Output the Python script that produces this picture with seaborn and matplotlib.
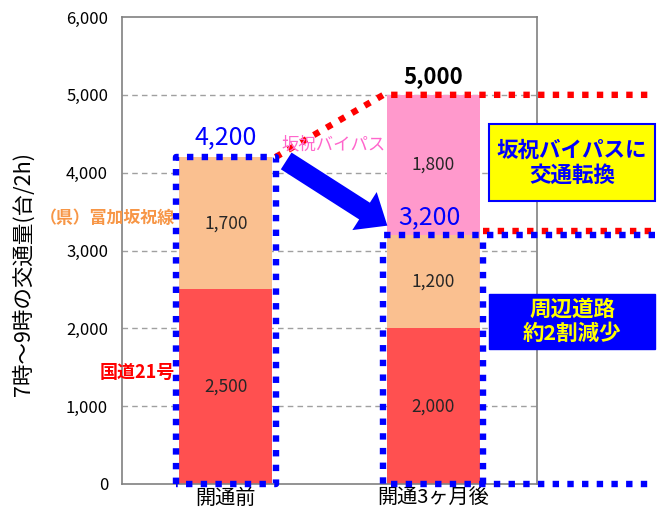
import numpy as np
import pandas as pd
import matplotlib
matplotlib.use("Agg")
import matplotlib.pyplot as plt
from matplotlib.patches import Rectangle
import seaborn as sns

categories = ["開通前", "開通3ヶ月後"]
route21 = [2500, 2000]        # 国道21号
prefroad = [1700, 1200]       # (県)富加坂祝線
bypass = [0, 1800]            # 坂祝バイパス
totals = [4200, 5000]
yticks = [0, 1000, 2000, 3000, 4000, 5000, 6000]

c_red = "#FF5050"
c_peach = "#FAC090"
c_pink = "#FF99CC"
c_blue = "#0000FF"

sns.set_style("white")
plt.rcParams["font.family"] = ["Noto Sans CJK JP", "DejaVu Sans"]

df = pd.DataFrame({"cat": categories, "red": route21, "peach": prefroad, "pink": bypass})
df["lvl1"] = df["red"]
df["lvl2"] = df["red"] + df["peach"]
df["lvl3"] = df["lvl2"] + df["pink"]

fig = plt.figure(figsize=(6.65, 5.27), dpi=100)
ax = fig.add_axes([122 / 665, 1 - 484 / 527, 415 / 665, 467 / 527])

bw = 0.45
for col, c in [("lvl3", c_pink), ("lvl2", c_peach), ("lvl1", c_red)]:
    sns.barplot(data=df, x="cat", y=col, color=c, width=bw, saturation=1, ax=ax,
                linewidth=0, zorder=2)

ax.set_xlim(-0.5, 1.5)
ax.set_ylim(0, 6000)
ax.set_yticks(yticks)
ax.set_yticklabels([f"{v:,}" for v in yticks], fontsize=12, color="black")
ax.set_xlabel("")
ax.set_ylabel("7時～9時の交通量(台/2h)", fontsize=15.5, color="black")
ax.yaxis.set_label_coords(-0.21, 0.45)
ax.tick_params(axis="x", length=0, labelsize=14.5, pad=3, labelcolor="black")
ax.set_xticks([-0.5, 0.5, 1.5], minor=True)
ax.tick_params(axis="x", which="minor", length=6, color="#808080", direction="out")
ax.tick_params(axis="y", length=6, color="#808080", direction="out", pad=4)
for y in yticks[1:-1]:
    ax.axhline(y, color="#A0A0A0", linestyle=(0, (4, 3)), linewidth=1, zorder=1)
for s in ax.spines.values():
    s.set_color("#808080")
    s.set_linewidth(1.2)

# segment value labels
for i in range(len(categories)):
    base = 0
    for col in ["red", "peach", "pink"]:
        v = df[col][i]
        if v > 0:
            ax.text(i, base + v / 2, f"{v:,}", ha="center", va="center", fontsize=12.5, zorder=5)
        base += v

# dotted outlines
dot = dict(linestyle=(0, (1, 1.3)), linewidth=4.6, dash_capstyle="butt", clip_on=False, zorder=6)
pad = 0.015
x_far = 2.07
l0, r0 = 0 - bw / 2 - pad, 0 + bw / 2 + pad
l1, r1 = 1 - bw / 2 - pad, 1 + bw / 2 + pad
t0 = totals[0]
t1 = route21[1] + prefroad[1]
# red: traffic moved to the bypass
ax.plot([r0, l1, x_far], [t0, totals[1], totals[1]], color="#FF0000", **dot)
ax.plot([r1, x_far], [t1 + 50, t1 + 50], color="#FF0000", **dot)
# blue outlines
ax.plot([l0, l0, r0, r0, l0], [0, t0, t0, 0, 0], color=c_blue, **dot)
ax.plot([x_far, l1, l1, x_far], [t1, t1, 0, 0], color=c_blue, **dot)
ax.plot([r1, r1], [0, t1], color=c_blue, **dot)

# totals
ax.text(0, t0 + 90, f"{t0:,}", ha="center", va="bottom", fontsize=18, color=c_blue, zorder=7)
ax.text(1, totals[1] + 90, f"{totals[1]:,}", ha="center", va="bottom", fontsize=16,
        fontweight="bold", color="black", zorder=7)
ax.text(0.98, t1 + 60, f"{t1:,}", ha="center", va="bottom", fontsize=18, color=c_blue, zorder=7)

# arrow
ax.annotate("", xy=(0.79, 3300), xytext=(0.28, 4170),
            arrowprops=dict(arrowstyle="simple,head_length=1.5,head_width=2.5,tail_width=1.1",
                            mutation_scale=13, color=c_blue, lw=0), zorder=7)

# series labels
ax.text(0.52, 4356, "坂祝バイパス", ha="center", va="center", fontsize=12.5, color="#FF66CC", zorder=7)
ax.text(-0.245, 3418, "（県）富加坂祝線", ha="right", va="center", fontsize=12.2,
        color="#F79646", fontweight="bold", zorder=7, clip_on=False)
ax.text(-0.245, 1439, "国道21号", ha="right", va="center", fontsize=13,
        color="#FF0000", fontweight="bold", zorder=7, clip_on=False)

# callout boxes
ax.add_patch(Rectangle((1.269, 3636), 0.80, 989, fc="#FFFF00", ec=c_blue, lw=1.5,
                       clip_on=False, zorder=8))
ax.text(1.669, 4130, "坂祝バイパスに\n交通転換", ha="center", va="center", fontsize=15.5,
        fontweight="bold", color=c_blue, linespacing=1.25, zorder=9, clip_on=False)
ax.add_patch(Rectangle((1.269, 1735), 0.80, 706, fc=c_blue, ec=c_blue, lw=1,
                       clip_on=False, zorder=8))
ax.text(1.669, 2088, "周辺道路\n約2割減少", ha="center", va="center", fontsize=15.5,
        fontweight="bold", color="#FFFF00", linespacing=1.2, zorder=9, clip_on=False)

fig.savefig("out.png", dpi=100)
